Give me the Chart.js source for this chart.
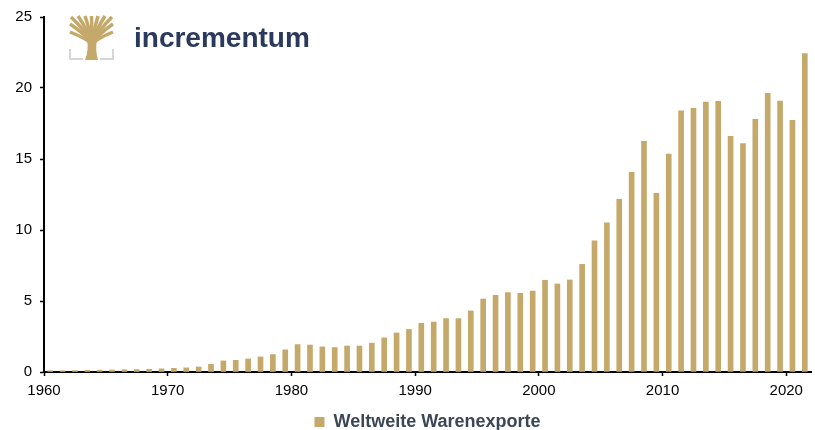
<!DOCTYPE html>
<html>
<head>
<meta charset="utf-8">
<script src="https://cdn.jsdelivr.net/npm/chart.js@4"></script>
<style>
  html, body { margin: 0; padding: 0; background: #fff; }
  #wrap { width: 815px; height: 430px; position: relative; }
</style>
</head>
<body>
<div id="wrap"><canvas id="chart"></canvas></div>
<script>
const years = [
  1960, 1961, 1962, 1963, 1964, 1965, 1966, 1967, 1968, 1969,
  1970, 1971, 1972, 1973, 1974, 1975, 1976, 1977, 1978, 1979,
  1980, 1981, 1982, 1983, 1984, 1985, 1986, 1987, 1988, 1989,
  1990, 1991, 1992, 1993, 1994, 1995, 1996, 1997, 1998, 1999,
  2000, 2001, 2002, 2003, 2004, 2005, 2006, 2007, 2008, 2009,
  2010, 2011, 2012, 2013, 2014, 2015, 2016, 2017, 2018, 2019,
  2020, 2021
];

// Weltweite Warenexporte (Billionen USD)
const warenexporte = [
  0.09, 0.09, 0.10, 0.12, 0.13, 0.14, 0.16, 0.17, 0.19, 0.22,
  0.26, 0.29, 0.35, 0.54, 0.78, 0.82, 0.92, 1.06, 1.23, 1.56,
  1.93, 1.90, 1.77, 1.72, 1.83, 1.83, 2.03, 2.40, 2.75, 3.00,
  3.43, 3.52, 3.76, 3.76, 4.30, 5.14, 5.40, 5.59, 5.54, 5.70,
  6.46, 6.20, 6.48, 7.58, 9.23, 10.50, 12.16, 14.06, 16.24, 12.58,
  15.35, 18.40, 18.57, 19.00, 19.06, 16.60, 16.08, 17.79, 19.63, 19.08,
  17.72, 22.42
];

const xTicks = [1960, 1970, 1980, 1990, 2000, 2010, 2020];
const yTicks = [0, 5, 10, 15, 20, 25];

const gold = '#c4a96b';
const font = 'Liberation Sans, Arial, sans-serif';

// logo top left + legend height fix
const logo = {
  id: 'logo',
  beforeLayout(chart) {
    const lg = chart.legend;
    if (lg && !lg._trimmed) {
      const fit = lg.fit.bind(lg);
      lg.fit = function () { fit(); this.height -= 11; };
      lg._trimmed = true;
    }
  },
  afterDraw(chart) {
    const ctx = chart.ctx;
    ctx.save();
    // grey frame corners
    ctx.fillStyle = '#d6d6d6';
    ctx.fillRect(69, 49, 2, 11);
    ctx.fillRect(69, 58, 14, 2);
    ctx.fillRect(112, 49, 2, 11);
    ctx.fillRect(100, 58, 14, 2);
    // tree
    ctx.fillStyle = gold;
    ctx.strokeStyle = gold;
    ctx.beginPath();
    ctx.moveTo(85, 60);
    ctx.lineTo(98, 60);
    ctx.quadraticCurveTo(95, 50, 97, 40);
    ctx.lineTo(87, 40);
    ctx.quadraticCurveTo(89, 50, 85, 60);
    ctx.fill();
    ctx.lineCap = 'butt';
    ctx.lineWidth = 3.5;
    const ends = [[71, 17], [78, 16], [85, 16], [91.5, 16], [98, 16], [105, 16], [112, 17],
                  [70, 24], [113, 24], [70, 32], [113, 32]];
    ends.forEach(([ex, ey]) => {
      ctx.beginPath();
      ctx.moveTo(92, 44);
      ctx.quadraticCurveTo(92 + (ex - 92) * 0.25, ey + (44 - ey) * 0.55, ex, ey);
      ctx.stroke();
    });
    // wordmark
    ctx.fillStyle = '#2b3a5c';
    ctx.font = 'bold 28px ' + font;
    ctx.textBaseline = 'alphabetic';
    ctx.fillText('incrementum', 134, 47);
    ctx.restore();
  }
};

new Chart(document.getElementById('chart'), {
  type: 'bar',
  data: {
    datasets: [{
      label: 'Weltweite Warenexporte',
      data: years.map((y, i) => ({ x: y + 0.5, y: warenexporte[i] })),
      backgroundColor: gold,
      borderWidth: 0,
      barThickness: 5
    }]
  },
  options: {
    responsive: true,
    maintainAspectRatio: false,
    animation: false,
    layout: { padding: { left: 0, right: 4, top: 16, bottom: 0 } },
    plugins: {
      tooltip: { enabled: false },
      legend: {
        position: 'bottom',
        fullSize: false,
        labels: {
          boxWidth: 10,
          boxHeight: 10,
          padding: 0,
          color: '#3b4656',
          font: { family: font, size: 18, weight: 'bold' }
        }
      }
    },
    scales: {
      x: {
        type: 'linear',
        min: 1960,
        max: 2022,
        offset: false,
        afterFit(scale) { scale.height = 41; },
        afterBuildTicks(scale) { scale.ticks = xTicks.map(v => ({ value: v })); },
        grid: { display: true, drawOnChartArea: false, drawTicks: true, tickLength: 4, tickColor: '#000', tickWidth: 1.5, offset: false },
        border: { display: true, color: '#000', width: 2 },
        ticks: {
          includeBounds: false,
          autoSkip: false,
          maxRotation: 0,
          padding: 6,
          color: '#000',
          font: { family: font, size: 15 },
          callback: v => String(v)
        }
      },
      y: {
        min: 0,
        max: 25,
        afterFit(scale) { scale.width = 44; },
        afterBuildTicks(scale) { scale.ticks = yTicks.map(v => ({ value: v })); },
        grid: { display: true, drawOnChartArea: false, drawTicks: true, tickLength: 4, tickColor: '#000', tickWidth: 1.5 },
        border: { display: true, color: '#000', width: 2 },
        ticks: {
          padding: 8,
          color: '#000',
          font: { family: font, size: 15 }
        }
      }
    }
  },
  plugins: [logo]
});
</script>
</body>
</html>
